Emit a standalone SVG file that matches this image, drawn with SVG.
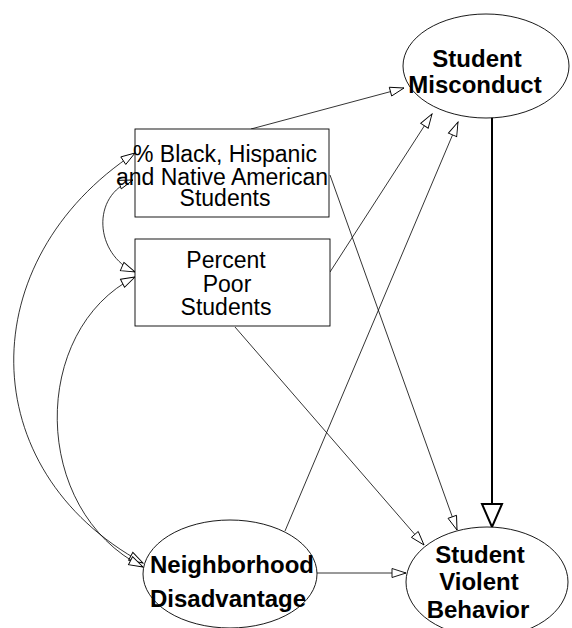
<svg xmlns="http://www.w3.org/2000/svg" width="572" height="628" viewBox="0 0 572 628">
  <style>
    .node { fill: #ffffff; stroke: #000000; stroke-width: 0.9; }
    .lat { font-family: "Liberation Sans", Arial, sans-serif; font-weight: bold; font-size: 24px; fill: #000; text-anchor: middle; }
    .obs { font-family: "Liberation Sans", Arial, sans-serif; font-size: 23px; fill: #000; text-anchor: middle; }
    .edge { fill: none; stroke: #000000; stroke-width: 0.8; }
    .edge-thick { fill: none; stroke: #000000; stroke-width: 2; }
  </style>
  <defs>
    <marker id="arrow" markerUnits="userSpaceOnUse" markerWidth="16" markerHeight="12" viewBox="0 0 16 12" refX="15" refY="6" orient="auto-start-reverse">
      <path d="M1,1.5 L15,6 L1,10.5 Z" fill="#ffffff" stroke="#000000" stroke-width="0.9"/>
    </marker>
    <marker id="arrow-big" markerUnits="userSpaceOnUse" markerWidth="26" markerHeight="24" viewBox="0 0 26 24" refX="24" refY="12" orient="auto">
      <path d="M1,2 L24,12 L1,22 Z" fill="#ffffff" stroke="#000000" stroke-width="2"/>
    </marker>
  </defs>

  <rect width="572" height="628" fill="#ffffff"/>

  <g id="connectors">
    <!-- directed paths -->
    <line class="edge" x1="251" y1="129" x2="404" y2="88" marker-end="url(#arrow)"/>
    <line class="edge" x1="330" y1="175" x2="457" y2="530" marker-end="url(#arrow)"/>
    <line class="edge" x1="235" y1="327" x2="424" y2="545" marker-end="url(#arrow)"/>
    <line class="edge" x1="330" y1="272" x2="432" y2="114" marker-end="url(#arrow)"/>
    <line class="edge" x1="285" y1="531" x2="458" y2="122" marker-end="url(#arrow)"/>
    <line class="edge" x1="317" y1="573" x2="406" y2="573" marker-end="url(#arrow)"/>
    <line class="edge-thick" x1="492" y1="117" x2="492" y2="527" marker-end="url(#arrow-big)"/>
    <!-- correlations -->
    <path class="edge" d="M135,153 C-28,260 -28,470 143,563" marker-start="url(#arrow)" marker-end="url(#arrow)"/>
    <path class="edge" d="M135,277 C30,330 30,510 143,567" marker-start="url(#arrow)" marker-end="url(#arrow)"/>
    <path class="edge" d="M133,180 C90,195 95,255 135,272" marker-start="url(#arrow)" marker-end="url(#arrow)"/>
  </g>

  <g id="student-misconduct">
    <ellipse class="node" cx="486" cy="66" rx="83" ry="52"/>
    <text class="lat" x="477" y="67">Student</text>
    <text class="lat" x="475" y="93">Misconduct</text>
  </g>

  <g id="pct-minority">
    <rect class="node" x="135" y="129" width="194" height="88"/>
    <text class="obs" x="225" y="162">% Black, Hispanic</text>
    <text class="obs" x="222" y="185">and Native American</text>
    <text class="obs" x="225" y="206">Students</text>
  </g>

  <g id="pct-poor">
    <rect class="node" x="135" y="239" width="195" height="87"/>
    <text class="obs" x="226" y="268">Percent</text>
    <text class="obs" x="227" y="292">Poor</text>
    <text class="obs" x="226" y="315">Students</text>
  </g>

  <g id="neighborhood-disadvantage">
    <ellipse class="node" cx="230" cy="574" rx="87" ry="54"/>
    <text class="lat" x="232" y="573">Neighborhood</text>
    <text class="lat" x="228" y="607">Disadvantage</text>
  </g>

  <g id="student-violent-behavior">
    <ellipse class="node" cx="487" cy="582" rx="81" ry="55"/>
    <text class="lat" x="480" y="563">Student</text>
    <text class="lat" x="479" y="590">Violent</text>
    <text class="lat" x="478" y="618">Behavior</text>
  </g>
</svg>
